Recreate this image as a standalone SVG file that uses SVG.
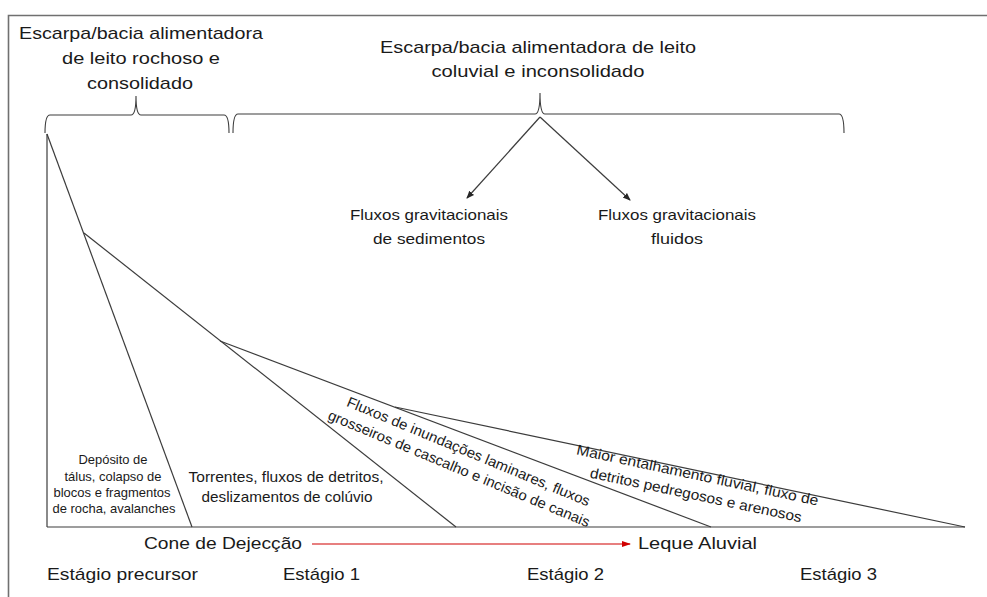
<svg xmlns="http://www.w3.org/2000/svg" width="987" height="597" viewBox="0 0 987 597">
<defs>
<style>
.t{font-family:"Liberation Sans",Arial,sans-serif;fill:#1a1a1a;}
.ln{stroke:#3c3c3c;stroke-width:1.2;fill:none;}
.br{stroke:#3c3c3c;stroke-width:1.1;fill:none;}
.frame{stroke:#707070;stroke-width:1.6;fill:none;}
</style>
<marker id="ah" markerWidth="8" markerHeight="8" refX="7" refY="4" orient="auto" markerUnits="userSpaceOnUse">
<path d="M0,0.8 L8,4 L0,7.2 Z" fill="#262626"/>
</marker>
<marker id="ahr" markerWidth="9" markerHeight="8" refX="8" refY="4" orient="auto" markerUnits="userSpaceOnUse">
<path d="M0,1 L9,4 L0,7 Z" fill="#d00000"/>
</marker>
</defs>
<rect width="987" height="597" fill="#ffffff"/>
<path class="frame" d="M8.5,597 L8.5,15.5 L987,15.5"/>

<g id="connectors">
<path class="br" d="M45,133 Q45,115 50,115 L131,115 Q136,115 136,96 Q136,115 141,115 L224,115 Q229,115 229,133"/>
<path class="br" d="M233,133 Q233,114 238,114 L535,114 Q540,114 540,93 Q540,114 545,114 L839,114 Q844,114 844,133"/>
<line class="ln" x1="540" y1="117" x2="467" y2="198" marker-end="url(#ah)"/>
<line class="ln" x1="540" y1="117" x2="630" y2="200" marker-end="url(#ah)"/>
<line x1="312" y1="544" x2="630" y2="544" stroke="#d00000" stroke-width="1.2" marker-end="url(#ahr)"/>
</g>

<g id="fan">
<line class="ln" x1="47" y1="134" x2="47" y2="527"/>
<line class="ln" x1="47" y1="527" x2="965" y2="527"/>
<line class="ln" x1="47" y1="134" x2="192" y2="527"/>
<line class="ln" x1="84" y1="233" x2="456" y2="527"/>
<line class="ln" x1="220" y1="341" x2="711" y2="527"/>
<line class="ln" x1="395" y1="407" x2="965" y2="527"/>
</g>

<g id="escarpa-rochoso">
<text class="t" font-size="17" text-anchor="middle" x="141" y="39" textLength="244" lengthAdjust="spacingAndGlyphs">Escarpa/bacia alimentadora</text>
<text class="t" font-size="17" text-anchor="middle" x="141" y="64" textLength="158" lengthAdjust="spacingAndGlyphs">de leito rochoso e</text>
<text class="t" font-size="17" text-anchor="middle" x="140" y="89" textLength="106" lengthAdjust="spacingAndGlyphs">consolidado</text>
</g>

<g id="escarpa-coluvial">
<text class="t" font-size="17" text-anchor="middle" x="538" y="53" textLength="316" lengthAdjust="spacingAndGlyphs">Escarpa/bacia alimentadora de leito</text>
<text class="t" font-size="17" text-anchor="middle" x="538" y="77" textLength="213" lengthAdjust="spacingAndGlyphs">coluvial e inconsolidado</text>
</g>

<g id="fluxos-sedimentos">
<text class="t" font-size="15" text-anchor="middle" x="429" y="220" textLength="158" lengthAdjust="spacingAndGlyphs">Fluxos gravitacionais</text>
<text class="t" font-size="15" text-anchor="middle" x="429" y="244" textLength="112" lengthAdjust="spacingAndGlyphs">de sedimentos</text>
</g>

<g id="fluxos-fluidos">
<text class="t" font-size="15" text-anchor="middle" x="677" y="220" textLength="158" lengthAdjust="spacingAndGlyphs">Fluxos gravitacionais</text>
<text class="t" font-size="15" text-anchor="middle" x="677" y="244" textLength="52" lengthAdjust="spacingAndGlyphs">fluidos</text>
</g>

<g id="deposito-talus">
<text class="t" font-size="13" text-anchor="middle" x="113" y="464" textLength="69" lengthAdjust="spacingAndGlyphs">Depósito de</text>
<text class="t" font-size="13" text-anchor="middle" x="113" y="481" textLength="97" lengthAdjust="spacingAndGlyphs">tálus, colapso de</text>
<text class="t" font-size="13" text-anchor="middle" x="112" y="497" textLength="117" lengthAdjust="spacingAndGlyphs">blocos e fragmentos</text>
<text class="t" font-size="13" text-anchor="middle" x="114" y="513" textLength="123" lengthAdjust="spacingAndGlyphs">de rocha, avalanches</text>
</g>

<g id="torrentes">
<text class="t" font-size="15" text-anchor="middle" x="286" y="482" textLength="195" lengthAdjust="spacingAndGlyphs">Torrentes, fluxos de detritos,</text>
<text class="t" font-size="15" text-anchor="middle" x="287" y="502" textLength="171" lengthAdjust="spacingAndGlyphs">deslizamentos de colúvio</text>
</g>

<g id="fluxos-inundacoes">
<g transform="translate(468.5,451.5) rotate(22.6)">
<text class="t" font-size="14.5" text-anchor="middle" x="0" y="5" textLength="262" lengthAdjust="spacingAndGlyphs">Fluxos de inundações laminares, fluxos</text>
</g>
<g transform="translate(459,468.5) rotate(22.6)">
<text class="t" font-size="14.5" text-anchor="middle" x="0" y="5" textLength="282" lengthAdjust="spacingAndGlyphs">grosseiros de cascalho e incisão de canais</text>
</g>
</g>

<g id="maior-entalhamento">
<g transform="translate(697.5,475) rotate(12)">
<text class="t" font-size="14.5" text-anchor="middle" x="0" y="5" textLength="247" lengthAdjust="spacingAndGlyphs">Maior entalhamento fluvial, fluxo de</text>
</g>
<g transform="translate(696,495) rotate(12)">
<text class="t" font-size="14.5" text-anchor="middle" x="0" y="5" textLength="216" lengthAdjust="spacingAndGlyphs">detritos pedregosos e arenosos</text>
</g>
</g>

<g id="cone-dejeccao">
<text class="t" font-size="17" x="144" y="549" textLength="158" lengthAdjust="spacingAndGlyphs">Cone de Dejecção</text>
</g>
<g id="leque-aluvial">
<text class="t" font-size="17" x="638" y="549" textLength="119" lengthAdjust="spacingAndGlyphs">Leque Aluvial</text>
</g>

<g id="estagios">
<text class="t" font-size="17" x="47" y="580" textLength="151" lengthAdjust="spacingAndGlyphs">Estágio precursor</text>
<text class="t" font-size="17" x="283" y="580" textLength="77" lengthAdjust="spacingAndGlyphs">Estágio 1</text>
<text class="t" font-size="17" x="527" y="580" textLength="77" lengthAdjust="spacingAndGlyphs">Estágio 2</text>
<text class="t" font-size="17" x="800" y="580" textLength="77" lengthAdjust="spacingAndGlyphs">Estágio 3</text>
</g>
</svg>
